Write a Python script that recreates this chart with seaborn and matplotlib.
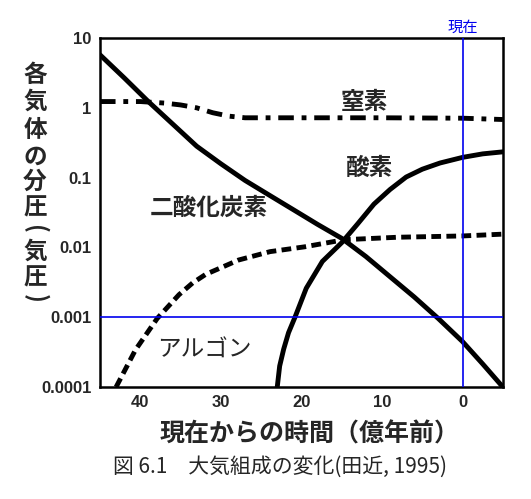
import numpy as np
import pandas as pd
import seaborn as sns
import matplotlib.pyplot as plt
from matplotlib.ticker import FixedLocator, FixedFormatter, NullLocator

# 時間 (億年前) と各気体の分圧 (気圧)
co2_x = [45, 42, 39, 36, 33, 30, 27, 24, 21, 18, 15, 12, 9, 6, 3, 0, -2.5, -5]
co2_y = [5.75, 2.69, 1.23, 0.589, 0.282, 0.158, 0.0912, 0.0562, 0.0347, 0.0214,
         0.0135, 0.00741, 0.0038, 0.00195, 0.000955, 0.000447, 0.000214, 0.0001]

o2_x = [23.0, 22.7, 22.2, 21.6, 20.8, 19.4, 17.4, 15.0, 13.0, 11.0, 9.0, 7.0, 5.0, 2.8, 0.0, -2.5, -5.0]
o2_y = [0.0001, 0.0002, 0.00035, 0.0006, 0.001, 0.0026, 0.0063, 0.0117, 0.0219, 0.0417,
        0.0676, 0.102, 0.132, 0.162, 0.195, 0.219, 0.234]

ar_x = [43.0, 40.6, 37.9, 35.2, 33.5, 31.9, 27.8, 23.9, 19.6, 14.7, 8.0, 0.0, -5.0]
ar_y = [0.0001, 0.00034, 0.00096, 0.0021, 0.0031, 0.0041, 0.0066, 0.0087, 0.0102, 0.0129,
        0.014, 0.0146, 0.0155]

n2_x = [45, 40, 37, 35, 33, 31, 29, 27, 20, 10, 0, -5]
n2_y = [1.23, 1.23, 1.17, 1.10, 1.0, 0.85, 0.76, 0.72, 0.72, 0.72, 0.71, 0.68]

x_ticks = [40, 30, 20, 10, 0]
y_ticks = [10, 1, 0.1, 0.01, 0.001, 0.0001]
y_labels = ['10', '1', '0.1', '0.01', '0.001', '0.0001']

# 縦書きの軸ラベル (1文字ずつ)
ylabel_chars = ['各', '気', '体', 'の', '分', '圧', '(', '気', '圧', ')']
ylabel_rows = [75, 102, 130, 157, 182, 207, 229, 252, 277, 298]

sns.set_style("white")
plt.rcParams['font.family'] = ['Noto Sans CJK JP', 'DejaVu Sans']

W, H = 531, 499
fig = plt.figure(figsize=(5.31, 4.99), dpi=100)
ax = fig.add_axes([0.1883, 0.2244, 0.947 - 0.1883, 0.9238 - 0.2244])

lw = 3.5
sns.lineplot(x=co2_x, y=co2_y, ax=ax, color='black', lw=lw, sort=False)
sns.lineplot(x=o2_x, y=o2_y, ax=ax, color='black', lw=lw, sort=False)
sns.lineplot(x=ar_x, y=ar_y, ax=ax, color='black', lw=lw, sort=False,
             linestyle=(0, (2.0, 1.1)))
sns.lineplot(x=n2_x, y=n2_y, ax=ax, color='black', lw=lw, sort=False,
             linestyle=(0, (3.2, 1.6, 1.0, 1.6)))

ax.set_yscale('log')
ax.set_xlim(45, -5)
ax.set_ylim(0.0001, 10)

# 基準線 (現在, 0.001気圧)
ax.axvline(0, color='#0000ee', lw=1.2, zorder=5)
ax.axhline(0.001, color='#0000ee', lw=1.2, zorder=5)
ax.text(0, 10.8, '現在', color='#0000ee', fontsize=11, ha='center', va='bottom')

ax.xaxis.set_major_locator(FixedLocator(x_ticks))
ax.set_xticklabels([str(t) for t in x_ticks])
ax.yaxis.set_major_locator(FixedLocator(y_ticks))
ax.yaxis.set_major_formatter(FixedFormatter(y_labels))
ax.yaxis.set_minor_locator(NullLocator())
ax.tick_params(direction='in', length=5, width=1.5, labelsize=12, pad=6)
for lab in ax.get_xticklabels() + ax.get_yticklabels():
    lab.set_fontweight('bold')
    lab.set_family(['Liberation Sans', 'DejaVu Sans'])
for sp in ax.spines.values():
    sp.set_linewidth(1.8)
    sp.set_color('black')

# ラベル
ax.text(12.2, 1.22, '窒素', fontsize=17, fontweight='bold', ha='center', va='center')
ax.text(11.5, 0.136, '酸素', fontsize=17, fontweight='bold', ha='center', va='center')
ax.text(31.5, 0.037, '二酸化炭素', fontsize=17, fontweight='bold', ha='center', va='center')
ax.text(32.1, 0.00034, 'アルゴン', fontsize=17, ha='center', va='center')

ax.set_xlabel('')
ax.set_ylabel('')
fig.text(310 / W, 1 - 434 / H, '現在からの時間（億年前）', fontsize=18, fontweight='bold',
         ha='center', va='center')
for ch, row in zip(ylabel_chars, ylabel_rows):
    rot = -90 if ch in '()' else 0
    fig.text(35 / W, 1 - row / H, ch, fontsize=17, fontweight='bold',
             ha='center', va='center', rotation=rot)
fig.text(280 / W, 1 - 467 / H, '図 6.1　大気組成の変化(田近, 1995)', fontsize=15,
         ha='center', va='center')

fig.savefig('out.png', dpi=100)
